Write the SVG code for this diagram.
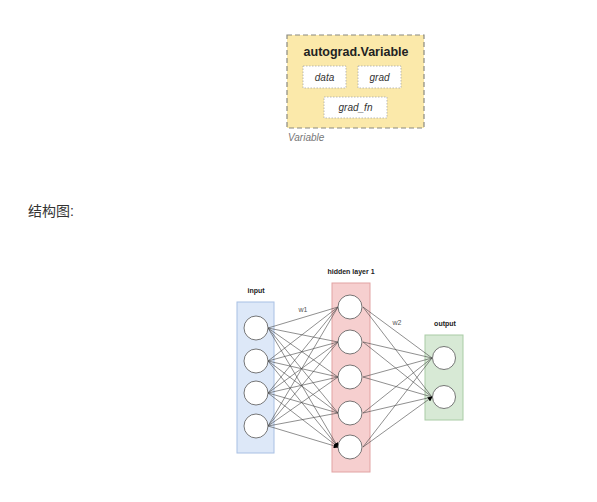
<svg xmlns="http://www.w3.org/2000/svg" width="597" height="502" viewBox="0 0 597 502">
<defs>
<style>
.lbl{font-family:"Liberation Sans",Arial,sans-serif;font-size:7px;font-weight:bold;fill:#222;text-anchor:middle}
.w{font-family:"Liberation Sans",Arial,sans-serif;font-size:7px;fill:#555;text-anchor:middle}
.n{fill:#fff;stroke:#555;stroke-width:0.8}
.e{stroke:#444;stroke-width:0.6;fill:none;marker-end:url(#ah)}
.ib{fill:#fff;stroke:#aaa;stroke-width:0.8;stroke-dasharray:1.5 1.5}
.it{font-family:"Liberation Sans",Arial,sans-serif;font-size:10px;font-style:italic;fill:#333;text-anchor:middle}
</style>
<marker id="ah" viewBox="0 0 6 6" refX="5" refY="3" markerWidth="5" markerHeight="5" orient="auto" markerUnits="userSpaceOnUse">
<path d="M0,0 L6,3 L0,6 Z" fill="#000"/>
</marker>
</defs>
<rect width="597" height="502" fill="#fff"/>
<g id="variable">
<rect x="287" y="35" width="137" height="93" fill="#fbe9aa" stroke="#8a8a80" stroke-width="1.2" stroke-dasharray="5 3"/>
<text x="356" y="56" font-family="Liberation Sans,Arial,sans-serif" font-size="12.5" font-weight="bold" fill="#222" text-anchor="middle">autograd.Variable</text>
<g id="data"><rect class="ib" x="303" y="66" width="43" height="22"/><text class="it" x="324.5" y="80.5">data</text></g>
<g id="grad"><rect class="ib" x="358" y="66" width="43" height="22"/><text class="it" x="379.5" y="80.5">grad</text></g>
<g id="grad_fn"><rect class="ib" x="324" y="97" width="63" height="21"/><text class="it" x="355.5" y="111">grad_fn</text></g>
<text x="288" y="141" font-family="Liberation Sans,Arial,sans-serif" font-size="10" font-style="italic" fill="#777">Variable</text>
</g>
<text x="28" y="216" font-family="Liberation Sans,'Noto Sans CJK SC',sans-serif" font-size="14" fill="#333">结构图:</text>
<g id="input-layer">
<rect x="237" y="302" width="37" height="151" fill="#dde8f8" stroke="#a8c0e4" stroke-width="1"/>
<text class="lbl" x="256" y="293">input</text>
</g>
<g id="hidden-layer">
<rect x="332" y="283" width="38" height="189" fill="#f6cfcf" stroke="#e2a3a3" stroke-width="1"/>
<text class="lbl" x="351" y="274">hidden layer 1</text>
</g>
<g id="output-layer">
<rect x="425" y="335" width="38" height="85" fill="#d7e9d5" stroke="#a9cca5" stroke-width="1"/>
<text class="lbl" x="445" y="326">output</text>
</g>
<text class="w" x="303" y="312">w1</text>
<text class="w" x="397" y="325">w2</text>
<g id="connectors">
<path class="e" d="M268,328L338,307M268,328L338,342M268,328L338,377M268,328L338,413M268,328L338,447"/>
<path class="e" d="M268,361L338,307M268,361L338,342M268,361L338,377M268,361L338,413M268,361L338,447"/>
<path class="e" d="M268,393L338,307M268,393L338,342M268,393L338,377M268,393L338,413M268,393L338,447"/>
<path class="e" d="M268,426L338,307M268,426L338,342M268,426L338,377M268,426L338,413M268,426L338,447"/>
<path class="e" d="M363,307L432,358M363,307L432,397M363,342L432,358M363,342L432,397M363,377L432,358M363,377L432,397M363,413L432,358M363,413L432,397M363,447L432,358M363,447L432,397"/>
</g>
<g id="in1"><circle class="n" cx="256" cy="328" r="12"/></g>
<g id="in2"><circle class="n" cx="256" cy="361" r="12"/></g>
<g id="in3"><circle class="n" cx="256" cy="393" r="12"/></g>
<g id="in4"><circle class="n" cx="256" cy="426" r="12"/></g>
<g id="h1"><circle class="n" cx="350" cy="307" r="12"/></g>
<g id="h2"><circle class="n" cx="350" cy="342" r="12"/></g>
<g id="h3"><circle class="n" cx="350" cy="377" r="12"/></g>
<g id="h4"><circle class="n" cx="350" cy="413" r="12"/></g>
<g id="h5"><circle class="n" cx="350" cy="447" r="12"/></g>
<g id="o1"><circle class="n" cx="444" cy="358" r="11.5"/></g>
<g id="o2"><circle class="n" cx="444" cy="397" r="11.5"/></g>
</svg>
